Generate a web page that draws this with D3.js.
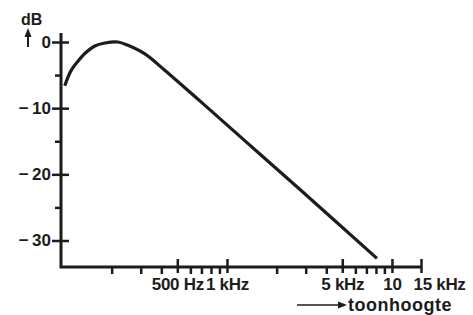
<!DOCTYPE html>
<html>
<head>
<meta charset="utf-8">
<script src="https://cdn.jsdelivr.net/npm/d3@7"></script>
<style>
  body { margin: 0; background: #fff; }
  svg text { font-family: "Liberation Sans", Arial, sans-serif; font-weight: bold; fill: #1c1c1c; }
</style>
</head>
<body>
<div id="chart"></div>
<script>
// response curve (frequency in Hz, level in dB)
var freq = [104, 113, 125, 138, 158, 182, 218, 251, 318, 421, 685, 1322, 2771, 8110];
var level = [-6.6, -4.4, -2.9, -1.7, -0.6, -0.15, 0, -0.5, -1.8, -4.3, -8.9, -15.2, -22.3, -32.7];

var yMajor = [0, -10, -20, -30];
var yMinor = [-5, -15, -25];
var yLabels = ["0", "\u2212\u200910", "\u2212\u200920", "\u2212\u200930"];

var xMajor = [500, 1000, 5000, 10000, 15000];
var xMinor = [200, 300, 400, 600, 700, 800, 900, 2000, 3000, 4000, 6000, 7000, 8000, 9000];
var xLabels = ["500 Hz", "1 kHz", "5 kHz", "10", "15 kHz"];

var width = 473, height = 315;
var ink = "#1c1c1c";

var svg = d3.select("#chart")
  .append("svg")
    .attr("width", width)
    .attr("height", height);

var x = d3.scaleLog()
  .domain([100, 15000])
  .range([62, 421]);

var y = d3.scaleLinear()
  .domain([-30, 0])
  .range([240.5, 42]);

var x0 = 61, yBase = 267, yTop = 33;

// axis lines
svg.append("path")
  .attr("d", "M" + x0 + "," + yTop + "V" + yBase + "H" + x(15000))
  .attr("fill", "none")
  .attr("stroke", ink)
  .attr("stroke-width", 3);

// y axis: major ticks cross the line, minor ticks on the left only
var yl = svg.append("g")
  .attr("transform", "translate(" + x0 + ",0)")
  .call(d3.axisLeft(y).tickValues(yMajor).tickSize(9).tickPadding(1)
    .tickFormat(function(d, i) { return yLabels[i]; }));
var yr = svg.append("g")
  .attr("transform", "translate(" + x0 + ",0)")
  .call(d3.axisRight(y).tickValues(yMajor).tickSize(8).tickFormat(""));
var ym = svg.append("g")
  .attr("transform", "translate(" + x0 + ",0)")
  .call(d3.axisLeft(y).tickValues(yMinor).tickSize(6).tickFormat(""));

// x axis: major ticks cross the line, minor ticks below
var xb = svg.append("g")
  .attr("transform", "translate(0," + yBase + ")")
  .call(d3.axisBottom(x).tickValues(xMajor).tickSize(6).tickPadding(3)
    .tickFormat(function(d, i) { return xLabels[i]; }));
var xt = svg.append("g")
  .attr("transform", "translate(0," + yBase + ")")
  .call(d3.axisTop(x).tickValues(xMajor).tickSize(8).tickFormat(""));
var xm = svg.append("g")
  .attr("transform", "translate(0," + yBase + ")")
  .call(d3.axisBottom(x).tickValues(xMinor).tickSize(7).tickFormat(""));

[yl, yr, ym, xb, xt, xm].forEach(function(g) {
  g.select(".domain").remove();
  g.selectAll(".tick line").attr("stroke", ink).attr("stroke-width", 2.5);
});

yl.selectAll(".tick text")
  .attr("font-size", 17)
  .attr("fill", ink);

xb.selectAll(".tick text")
  .attr("font-size", 17)
  .attr("fill", ink)
  .attr("letter-spacing", -0.3)
  .attr("dy", "0.8em");
xb.selectAll(".tick text")
  .filter(function(d) { return d === 15000; })
  .attr("text-anchor", "start")
  .attr("dx", -8);

// the curve
var pts = freq.map(function(f, i) { return [x(f), y(level[i])]; });
svg.append("path")
  .datum(pts)
  .attr("fill", "none")
  .attr("stroke", ink)
  .attr("stroke-width", 3.2)
  .attr("d", d3.line().curve(d3.curveCatmullRom));

// unit label with up arrow
svg.append("text")
  .attr("x", 21).attr("y", 25)
  .attr("font-size", 16)
  .text("dB");
svg.append("line")
  .attr("x1", 28).attr("y1", 47).attr("x2", 28).attr("y2", 35)
  .attr("stroke", ink).attr("stroke-width", 2);
svg.append("path")
  .attr("d", "M24.5,37L28,28L31.5,37Z")
  .attr("fill", ink);

// pitch arrow
svg.append("line")
  .attr("x1", 297).attr("y1", 305).attr("x2", 340).attr("y2", 305)
  .attr("stroke", ink).attr("stroke-width", 1.5);
svg.append("path")
  .attr("d", "M338,301.5L347,305L338,308.5Z")
  .attr("fill", ink);
svg.append("text")
  .attr("x", 348).attr("y", 311)
  .attr("font-size", 18)
  .attr("letter-spacing", 0.5)
  .text("toonhoogte");
</script>
</body>
</html>
